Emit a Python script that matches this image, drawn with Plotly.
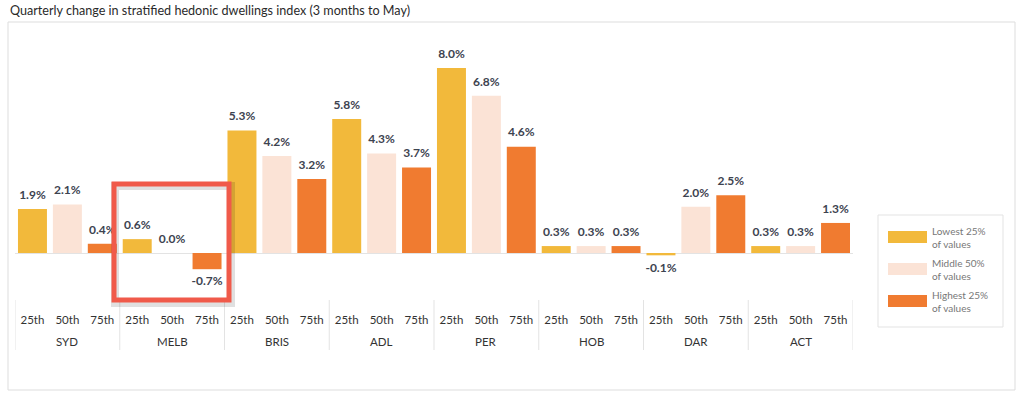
import plotly.graph_objects as go

# ---- data ----
regions = ["SYD", "MELB", "BRIS", "ADL", "PER", "HOB", "DAR", "ACT"]
percentiles = ["25th", "50th", "75th"]
lowest_25 = [1.9, 0.6, 5.3, 5.8, 8.0, 0.3, -0.1, 0.3]
middle_50 = [2.1, 0.0, 4.2, 4.3, 6.8, 0.3, 2.0, 0.3]
highest_25 = [0.4, -0.7, 3.2, 3.7, 4.6, 0.3, 2.5, 1.3]
series_names = ["Lowest 25%<br>of values", "Middle 50%<br>of values", "Highest 25%<br>of values"]
series_colors = ["#F2B93B", "#FBE3D6", "#F07B30"]
title_text = "Quarterly change in stratified hedonic dwellings index (3 months to May)"

series_values = [lowest_25, middle_50, highest_25]
n_sub = len(percentiles)

# flatten into region-ordered bars (numeric positions on a linear axis)
xpos, xlab, yv, cols = [], [], [], []
for i, r in enumerate(regions):
    for j, p in enumerate(percentiles):
        xpos.append(i * n_sub + j)
        xlab.append(p)
        yv.append(series_values[j][i])
        cols.append(series_colors[j])

FONT = "Lato, 'Open Sans', sans-serif"
W, H = 1024, 400
PL, PR, PT, PB = 15, 853, 45, 300


def px_x(x):
    return (x - PL) / (PR - PL)


def px_y(y):
    return (PB - y) / (PB - PT)


fig = go.Figure()
fig.add_trace(go.Bar(
    x=xpos, y=yv, marker=dict(color=cols, line=dict(width=0)),
    showlegend=False, hoverinfo="skip",
))
# labels
pos_idx = [k for k, v in enumerate(yv) if v >= 0]
neg_idx = [k for k, v in enumerate(yv) if v < 0]
for idx, tp in [(pos_idx, "top center"), (neg_idx, "bottom center")]:
    fig.add_trace(go.Scatter(
        x=[xpos[k] for k in idx],
        y=[yv[k] for k in idx],
        mode="markers+text",
        text=[f"{yv[k]:.1f}%" for k in idx],
        textposition=tp,
        marker=dict(size=10, opacity=0),
        textfont=dict(family=FONT, size=12, color="#3D4350", weight="bold"),
        showlegend=False, hoverinfo="skip", cliponaxis=False,
    ))

shapes = []
annotations = []
# outer border
shapes.append(dict(type="rect", xref="paper", yref="paper",
                   x0=px_x(8), x1=px_x(1015), y0=px_y(390), y1=px_y(22),
                   line=dict(color="#DDDDDD", width=1), fillcolor="rgba(0,0,0,0)", layer="below"))
# group dividers and group labels
for i in range(len(regions) + 1):
    shapes.append(dict(type="line", xref="x", yref="paper",
                       x0=i * n_sub - 0.5, x1=i * n_sub - 0.5, y0=px_y(300), y1=px_y(350),
                       line=dict(color="#E3E3E3", width=1)))
for i, r in enumerate(regions):
    annotations.append(dict(xref="x", yref="paper", x=i * n_sub + (n_sub - 1) / 2, y=px_y(341),
                            text=r, showarrow=False, xanchor="center", yanchor="middle",
                            font=dict(family=FONT, size=11.5, color="#333333")))
# highlight box shadow + box
shapes.append(dict(type="rect", xref="paper", yref="paper",
                   x0=px_x(115), x1=px_x(231), y0=px_y(303), y1=px_y(186),
                   line=dict(color="rgba(0,0,0,0.12)", width=8), fillcolor="rgba(0,0,0,0)"))
shapes.append(dict(type="rect", xref="paper", yref="paper",
                   x0=px_x(114), x1=px_x(229), y0=px_y(300), y1=px_y(184),
                   line=dict(color="#F05A4A", width=5), fillcolor="rgba(0,0,0,0)"))
# legend box
shapes.append(dict(type="rect", xref="paper", yref="paper",
                   x0=px_x(878), x1=px_x(1003), y0=px_y(327), y1=px_y(215),
                   line=dict(color="#E3E3E3", width=1), fillcolor="white"))
for k, (name, c) in enumerate(zip(series_names, series_colors)):
    cy = 237 + 32 * k
    shapes.append(dict(type="rect", xref="paper", yref="paper",
                       x0=px_x(888), x1=px_x(927), y0=px_y(cy + 6), y1=px_y(cy - 6),
                       line=dict(width=0), fillcolor=c))
    annotations.append(dict(xref="paper", yref="paper", x=px_x(930), y=px_y(cy),
                            text=name, showarrow=False, xanchor="left", yanchor="middle",
                            align="left", font=dict(family=FONT, size=10, color="#777777")))

fig.update_layout(
    width=W, height=H,
    margin=dict(l=PL, r=W - PR, t=PT, b=H - PB, pad=0, autoexpand=False),
    paper_bgcolor="white", plot_bgcolor="white",
    bargap=0.17,
    showlegend=False,
    title=dict(text=title_text, x=10 / W, xanchor="left", y=1 - 11 / H, yanchor="middle",
               font=dict(family=FONT, size=12.6, color="#2A2A2A")),
    shapes=shapes, annotations=annotations,
    font=dict(family=FONT),
)
fig.update_xaxes(
    range=[-0.5, len(xpos) - 0.5], tickmode="array", tickvals=xpos, ticktext=xlab,
    showgrid=False, zeroline=False, showline=False, automargin=False,
    ticks="", ticklabelstandoff=11,
    tickfont=dict(family=FONT, size=11.5, color="#333333"),
)
fig.update_yaxes(
    range=[-2.032, 8.995], showgrid=False, showticklabels=False, ticks="",
    automargin=False,
    zeroline=True, zerolinecolor="#E3E3E3", zerolinewidth=1, showline=False,
)

fig.write_html("out.html", config={"displayModeBar": False},
               post_script="document.body.style.margin='0';")
